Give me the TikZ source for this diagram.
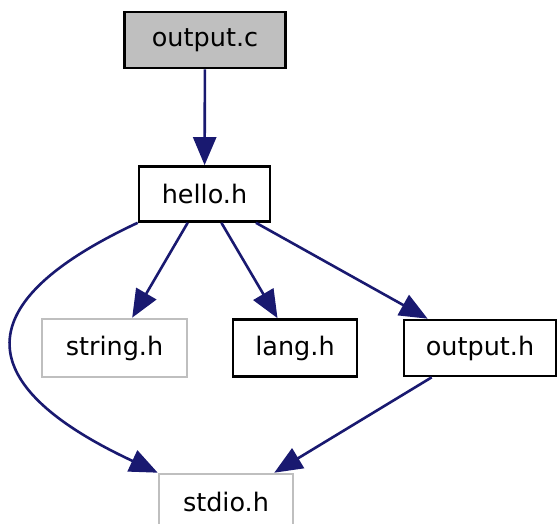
\documentclass[tikz,border=0pt]{standalone}
\usepackage{fontspec}
\setmainfont{DejaVu Sans}
\usetikzlibrary{arrows.meta}
\definecolor{edgeblue}{HTML}{191970}
\definecolor{boxgray}{HTML}{BFBFBF}
\begin{document}
\begin{tikzpicture}[x=1pt,y=1pt,
  box/.style={draw=black,line width=2.6pt,rectangle,inner sep=0pt,font=\fontsize{25.5}{30}\selectfont},
  graybox/.style={box,draw=boxgray},
  dep/.style={draw=edgeblue,line width=2.6pt,-{Triangle[length=28pt,width=23pt]}}]
\useasboundingbox (0,0) rectangle (557,524);
\begin{scope}
\clip (0,0) rectangle (557,524);
\node[box,fill=boxgray,minimum width=161pt,minimum height=56pt] (outc) at (205,484) {output.c};
\node[box,minimum width=131pt,minimum height=55pt] (hello) at (204.5,330) {hello.h};
\node[graybox,minimum width=145pt,minimum height=58pt] (string) at (114.5,176) {string.h};
\node[box,minimum width=124pt,minimum height=57pt] (lang) at (295,176) {lang.h};
\node[box,minimum width=152pt,minimum height=56pt] (outh) at (480,176) {output.h};
\node[graybox,minimum width=134pt,minimum height=56pt] (stdio) at (226,22) {stdio.h};
\draw[dep] (outc) -- (hello);
\draw[dep] (hello) -- (string);
\draw[dep] (hello) -- (lang);
\draw[dep] (hello) -- (outh);
\draw[dep] (outh) -- (stdio);
\draw[dep] (hello.south west) .. controls +(-180,-84) and +(-180,84) .. (stdio.north west);
\end{scope}
\end{tikzpicture}
\end{document}
